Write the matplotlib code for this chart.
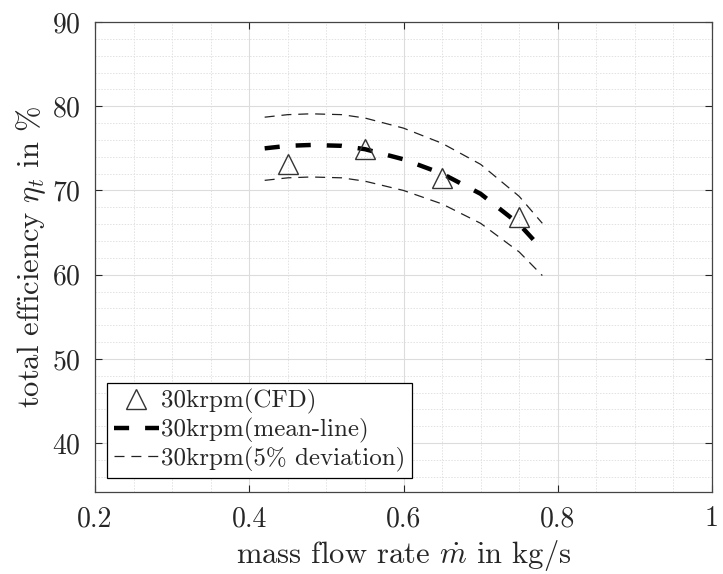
import matplotlib.pyplot as plt
from matplotlib.ticker import MultipleLocator

plt.rcParams['font.family'] = 'serif'
plt.rcParams['font.serif'] = ['cmr10', 'DejaVu Serif']
plt.rcParams['mathtext.fontset'] = 'cm'
plt.rcParams['axes.formatter.use_mathtext'] = True

# CFD points
cfd_x = [0.45, 0.55, 0.65, 0.75]
cfd_eff = [73.2, 74.9, 71.5, 66.8]

# mean-line prediction and the 5% band
mean_x = [0.42, 0.45, 0.48, 0.52, 0.55, 0.60, 0.65, 0.70, 0.75, 0.78]
mean_eff = [75.0, 75.3, 75.4, 75.3, 74.9, 73.7, 72.0, 69.6, 66.0, 63.0]
upper_eff = [78.7, 79.0, 79.1, 79.0, 78.6, 77.4, 75.6, 73.1, 69.3, 66.1]
lower_eff = [71.2, 71.5, 71.6, 71.5, 71.1, 70.0, 68.4, 66.1, 62.7, 59.9]

dark = '#262626'

fig = plt.figure(figsize=(7.23, 5.74), dpi=100)
ax = fig.add_axes([95 / 723, 1 - 492 / 574, 617 / 723, 470 / 574])

ax.plot(cfd_x, cfd_eff, linestyle='none', marker='^', markersize=14,
        markerfacecolor='none', markeredgecolor='#333333', markeredgewidth=1.0,
        label='30krpm(CFD)', zorder=4)
ax.plot(mean_x, mean_eff, color='black', linewidth=3.2, dashes=(3.4, 3.6),
        label='30krpm(mean-line)', zorder=3)
ax.plot(mean_x, upper_eff, color='#222222', linewidth=0.9, dashes=(8, 5.5),
        label='30krpm(5% deviation)', zorder=3)
ax.plot(mean_x, lower_eff, color='#222222', linewidth=0.9, dashes=(8, 5.5), zorder=3)

ax.set_xlim(0.2, 1.0)
ax.set_ylim(34.2, 90)
ax.set_xticks([0.2, 0.4, 0.6, 0.8, 1.0])
ax.set_xticklabels(['0.2', '0.4', '0.6', '0.8', '1'])
ax.set_yticks([40, 50, 60, 70, 80, 90])
ax.xaxis.set_minor_locator(MultipleLocator(0.05))
ax.yaxis.set_minor_locator(MultipleLocator(2))

ax.grid(which='major', color='#dcdcdc', linewidth=0.8)
ax.grid(which='minor', color='#e2e2e2', linewidth=0.7, linestyle=(0, (1.5, 1.5)))
ax.set_axisbelow(True)

ax.tick_params(which='major', direction='in', length=5, width=0.8, top=True, right=True,
               labelsize=20, colors=dark, pad=10)
ax.tick_params(which='minor', length=0)
for s in ax.spines.values():
    s.set_color('#444444')
    s.set_linewidth(0.9)

ax.set_xlabel(r'mass flow rate $\dot{m}$ in kg/s', fontsize=22, color=dark, labelpad=4)
ax.set_ylabel(r'total efficiency $\eta_t$ in %', fontsize=22, color=dark, labelpad=3)

leg = ax.legend(loc='lower left', bbox_to_anchor=(0.02, 0.03), fontsize=18,
                frameon=True, fancybox=False, edgecolor='black', framealpha=1,
                handlelength=1.8, handletextpad=0.1, borderpad=0.25, labelspacing=0.15,
                borderaxespad=0)
leg.get_frame().set_linewidth(0.9)
for t in leg.get_texts():
    t.set_color(dark)

fig.savefig('out.png', dpi=100)
